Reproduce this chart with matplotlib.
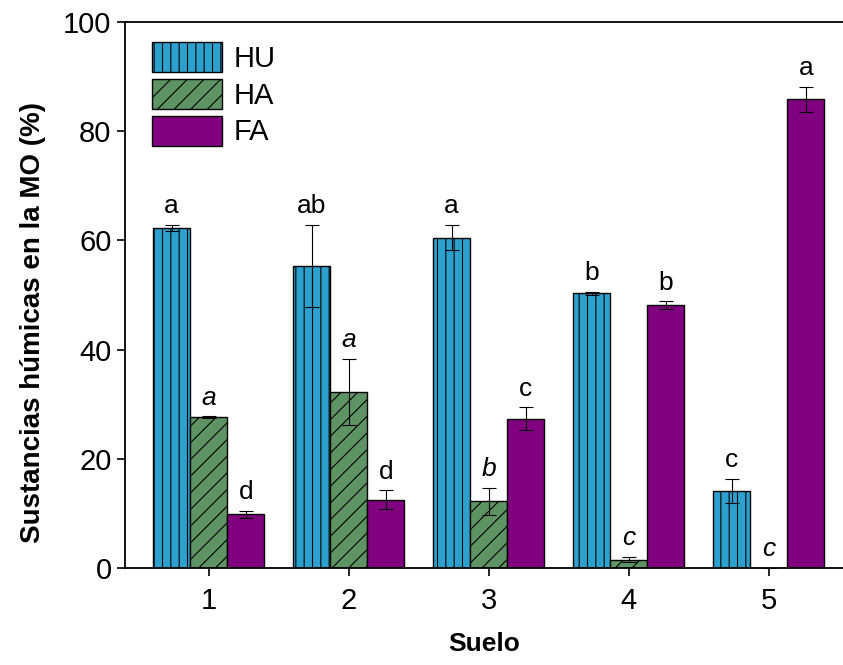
import matplotlib.pyplot as plt
import numpy as np

plt.rcParams['font.family'] = ['Liberation Sans', 'DejaVu Sans']
plt.rcParams['hatch.linewidth'] = 0.8

# Data
suelos = [1, 2, 3, 4, 5]
hu = [62.3, 55.3, 60.5, 50.3, 14.1]
hu_err = [0.5, 7.5, 2.3, 0.3, 2.2]
ha = [27.6, 32.2, 12.2, 1.5, 0.0]
ha_err = [0.2, 6.1, 2.5, 0.5, 0.0]
fa = [9.8, 12.5, 27.3, 48.1, 85.8]
fa_err = [0.7, 1.7, 2.1, 0.7, 2.3]
hu_letters = ['a', 'ab', 'a', 'b', 'c']
ha_letters = ['a', 'a', 'b', 'c', 'c']
fa_letters = ['d', 'd', 'c', 'b', 'a']

fig = plt.figure(figsize=(8.43, 6.65), dpi=100)
ax = fig.add_axes([0.148, 0.146, 0.852, 0.821])

x = np.array(suelos)
w = 0.265
series = [
    (hu, hu_err, hu_letters, '#2ca1cf', '||', 'HU', False),
    (ha, ha_err, ha_letters, '#5e9463', '//', 'HA', True),
    (fa, fa_err, fa_letters, '#800080', None, 'FA', False),
]

for i, (vals, errs, letters, color, hatch, label, italic) in enumerate(series):
    pos = x + (i - 1) * w
    ax.bar(pos, vals, width=w, color=color, edgecolor='black', linewidth=1.0,
           hatch=hatch, label=label, zorder=2)
    ax.errorbar(pos, vals, yerr=errs, fmt='none', ecolor='black',
                elinewidth=0.8, capsize=5, capthick=0.8, zorder=3)
    for p, v, e, t in zip(pos, vals, errs, letters):
        ax.text(p, v + e + 1.2, t, ha='center', va='bottom', fontsize=19,
                style='italic' if italic else 'normal')

ax.set_xlim(0.4, 5.53)
ax.set_ylim(0, 100)
ax.set_xticks(suelos)
ax.set_yticks([0, 20, 40, 60, 80, 100])
ax.tick_params(axis='both', labelsize=21, direction='out', length=6, width=1.2)
ax.tick_params(axis='x', pad=8)
for s in ['left', 'bottom', 'top']:
    ax.spines[s].set_linewidth(1.3)
ax.spines['right'].set_visible(False)

ax.set_xlabel('Suelo', fontsize=19, fontweight='bold', labelpad=12)
ax.set_ylabel('Sustancias húmicas en la MO (%)', fontsize=20, fontweight='bold')
ax.yaxis.set_label_coords(-0.11, 0.45)

ax.legend(loc='upper left', frameon=False, fontsize=21, handlelength=2.4,
          handleheight=1.2, labelspacing=0.2, handletextpad=0.4,
          borderaxespad=0.3, bbox_to_anchor=(0.01, 1.0))

plt.savefig('out.png', dpi=100)
plt.close()
